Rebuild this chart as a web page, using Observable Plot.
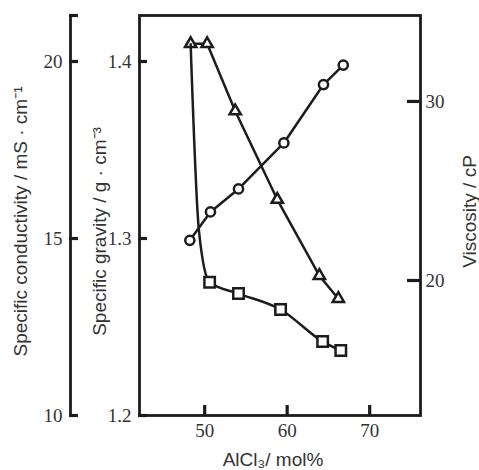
<!DOCTYPE html>
<html><head><meta charset="utf-8">
<script src="https://cdn.jsdelivr.net/npm/d3@7"></script>
<script src="https://cdn.jsdelivr.net/npm/@observablehq/plot@0.6"></script>
<style>
html,body{margin:0;padding:0;background:#fff;}
#chart{position:relative;width:479px;height:470px;}
#chart svg{position:absolute;left:0;top:0;overflow:visible;}
</style></head><body><div id="chart"></div>
<script>
// ---- data ----
const gravityX = [48.2, 50.7, 54.1, 59.6, 64.4, 66.8];          // AlCl3 mol% (circles)
const gravityY = [1.299, 1.315, 1.328, 1.354, 1.387, 1.398];     // g/cm3
const conductX = [48.3, 50.3, 53.7, 58.8, 63.9, 66.2];          // triangles
const conductY = [20.5, 20.5, 18.6, 16.1, 13.95, 13.3];         // mS/cm
const viscX = [50.6, 54.1, 59.2, 64.3, 66.5];                   // squares
const viscY = [19.9, 19.27, 18.38, 16.59, 16.09];               // cP
const viscLeadX = [48.3, 49.3];                                  // traced steep lead-in of viscosity curve (no markers)
const viscLeadY = [33.2, 22.8];

// ---- ticks / domains ----
const xTicks = [50, 60, 70];
const gravityTicks = [1.2, 1.3, 1.4];
const conductTicks = [10, 15, 20];
const viscTicks = [20, 30];
const xDomain = [42.1, 76.16];
const gravityDomain = [1.2, 1.426];
const conductDomain = [10, 21.3];
const viscDomain = [12.46, 34.8];

const xTitle = "AlCl₃/ mol%";
const gravityTitle = "Specific gravity / g · cm⁻³";
const conductTitle = "Specific conductivity / mS · cm⁻¹";
const viscTitle = "Viscosity / cP";

const gravity = gravityX.map((x, i) => ({x, y: gravityY[i]}));
const conduct = conductX.map((x, i) => ({x, y: conductY[i]}));
const viscPts = viscX.map((x, i) => ({x, y: viscY[i]}));
const viscCurve = viscLeadX.map((x, i) => ({x, y: viscLeadY[i]})).concat(viscPts);

const ink = "#1c1c1c";
const textInk = "#333";
const sans = "'Liberation Sans', Arial, sans-serif";
const W = 479, H = 470, mL = 139, mR = 59, mT = 15, mB = 55, mLouter = 70;
const base = {
  width: W, height: H,
  marginLeft: mL, marginRight: mR, marginTop: mT, marginBottom: mB,
  style: {fontFamily: "'Liberation Serif', 'Times New Roman', serif", fontSize: "19px", background: "transparent", color: textInk}
};
const frameW = W - mL - mR, frameH = H - mT - mB, outerW = W - mLouter - mR;
const lw = 2.8;
const dw = 2.5;
const titleOpts = {text: d => d, textAnchor: "middle", lineAnchor: "middle", fontFamily: sans, fontSize: 19, fill: textInk};
const tickStyle = {stroke: ink, strokeWidth: 3.2};
const lineStyle = {stroke: ink, strokeWidth: lw};

const chart = document.getElementById("chart");

// Conductivity outer axis
chart.append(Plot.plot({
  ...base, marginLeft: mLouter,
  x: {domain: xDomain, axis: null}, y: {domain: conductDomain},
  marks: [
    Plot.ruleX([xDomain[0]], lineStyle),
    Plot.tickY([...conductTicks, conductDomain[1]], {y: d => d, insetLeft: -1, insetRight: outerW - 8, ...tickStyle}),
    Plot.axisY({ticks: conductTicks, tickSize: 0, tickPadding: 8, label: null, tickFormat: d => String(d)})
  ]
}));

// Main: frame, x axis, specific gravity
chart.append(Plot.plot({
  ...base,
  x: {domain: xDomain}, y: {domain: gravityDomain},
  marks: [
    Plot.frame(lineStyle),
    Plot.tickX(xTicks, {x: d => d, insetTop: frameH - 10, insetBottom: -1, ...tickStyle}),
    Plot.tickY(gravityTicks, {y: d => d, insetLeft: -1, insetRight: frameW - 8, ...tickStyle}),
    Plot.axisX({ticks: xTicks, tickSize: 0, tickPadding: 8, label: null, tickFormat: d => String(d)}),
    Plot.axisY({ticks: gravityTicks, tickSize: 0, tickPadding: 8, label: null, tickFormat: d => d.toFixed(1)}),
    Plot.line(gravity, {x: "x", y: "y", stroke: ink, strokeWidth: dw}),
    Plot.dot(gravity, {x: "x", y: "y", r: 4.6, symbol: "circle", fill: "white", stroke: ink, strokeWidth: dw}),
    Plot.text([xTitle], {...titleOpts, frameAnchor: "bottom", dx: -7, dy: 44}),
    Plot.text([gravityTitle], {...titleOpts, frameAnchor: "left", dx: -40, dy: 16, rotate: -90}),
    Plot.text([conductTitle], {...titleOpts, frameAnchor: "left", dx: -119, dy: 6, rotate: -90}),
    Plot.text([viscTitle], {...titleOpts, frameAnchor: "right", dx: 49, dy: -4, rotate: -90})
  ]
}));

// Conductivity data
chart.append(Plot.plot({
  ...base,
  x: {domain: xDomain, axis: null}, y: {domain: conductDomain, axis: null},
  marks: [
    Plot.line(conduct, {x: "x", y: "y", stroke: ink, strokeWidth: dw}),
    Plot.dot(conduct, {x: "x", y: "y", r: 4.2, symbol: "triangle", fill: "white", stroke: ink, strokeWidth: dw})
  ]
}));

// Viscosity: right axis + data
chart.append(Plot.plot({
  ...base,
  x: {domain: xDomain, axis: null}, y: {domain: viscDomain},
  marks: [
    Plot.tickY(viscTicks, {y: d => d, insetLeft: frameW - 13, insetRight: -1, ...tickStyle}),
    Plot.axisY({anchor: "right", ticks: viscTicks, tickSize: 0, tickPadding: 5, label: null, tickFormat: d => String(d)}),
    Plot.line(viscCurve, {x: "x", y: "y", curve: "monotone-x", stroke: ink, strokeWidth: dw}),
    Plot.dot(viscPts, {x: "x", y: "y", r: 5.9, symbol: "square", fill: "white", stroke: ink, strokeWidth: dw})
  ]
}));
</script></body></html>
